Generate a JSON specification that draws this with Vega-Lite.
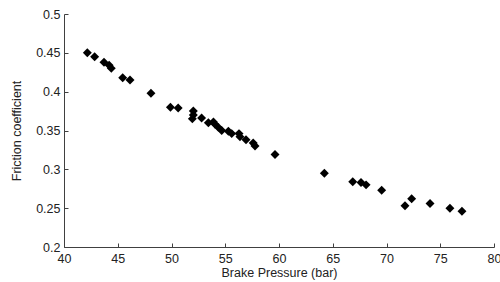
{
  "$schema": "https://vega.github.io/schema/vega-lite/v6.json",
  "width": 430,
  "height": 233,
  "autosize": "none",
  "padding": {"left": 64, "top": 14, "right": 6, "bottom": 35},
  "background": "white",
  "config": {
    "view": {"stroke": null},
    "font": "Liberation Sans",
    "axis": {
      "domainColor": "#404040",
      "tickColor": "#404040",
      "grid": false,
      "labelFont": "Liberation Sans",
      "titleFont": "Liberation Sans",
      "labelFontSize": 12.5,
      "titleFontSize": 12.5,
      "labelColor": "#222",
      "titleColor": "#222",
      "titleFontWeight": "normal",
      "tickSize": -4
    }
  },
  "data": {
    "values": [
      {"p": 42.17, "f": 0.450},
      {"p": 42.85, "f": 0.445},
      {"p": 43.72, "f": 0.438},
      {"p": 44.2, "f": 0.434},
      {"p": 44.4, "f": 0.430},
      {"p": 45.46, "f": 0.418},
      {"p": 46.14, "f": 0.415},
      {"p": 48.09, "f": 0.398},
      {"p": 49.9, "f": 0.380},
      {"p": 50.62, "f": 0.379},
      {"p": 52.03, "f": 0.375},
      {"p": 52.03, "f": 0.370},
      {"p": 51.94, "f": 0.365},
      {"p": 52.8, "f": 0.366},
      {"p": 53.43, "f": 0.360},
      {"p": 53.9, "f": 0.361},
      {"p": 54.05, "f": 0.358},
      {"p": 54.36, "f": 0.354},
      {"p": 54.67, "f": 0.350},
      {"p": 55.29, "f": 0.349},
      {"p": 55.6, "f": 0.346},
      {"p": 56.28, "f": 0.346},
      {"p": 56.37, "f": 0.342},
      {"p": 56.93, "f": 0.338},
      {"p": 57.6, "f": 0.334},
      {"p": 57.77, "f": 0.330},
      {"p": 59.63, "f": 0.319},
      {"p": 64.22, "f": 0.295},
      {"p": 66.86, "f": 0.284},
      {"p": 67.63, "f": 0.283},
      {"p": 68.1, "f": 0.280},
      {"p": 69.55, "f": 0.273},
      {"p": 71.72, "f": 0.253},
      {"p": 72.34, "f": 0.262},
      {"p": 74.05, "f": 0.256},
      {"p": 75.9, "f": 0.250},
      {"p": 77.02, "f": 0.246}
    ]
  },
  "mark": {"type": "point", "shape": "diamond", "filled": true, "color": "black", "opacity": 1, "size": 80},
  "encoding": {
    "x": {
      "field": "p",
      "type": "quantitative",
      "scale": {"domain": [40, 80], "nice": false, "zero": false},
      "axis": {"title": "Brake Pressure (bar)", "values": [40, 45, 50, 55, 60, 65, 70, 75, 80], "format": "~g", "labelPadding": 9, "titlePadding": 2, "labelFlush": false}
    },
    "y": {
      "field": "f",
      "type": "quantitative",
      "scale": {"domain": [0.2, 0.5], "nice": false, "zero": false},
      "axis": {"title": "Friction coefficient", "values": [0.2, 0.25, 0.3, 0.35, 0.4, 0.45, 0.5], "format": "~g", "labelPadding": 8, "titlePadding": 12, "labelFlush": false}
    }
  }
}
